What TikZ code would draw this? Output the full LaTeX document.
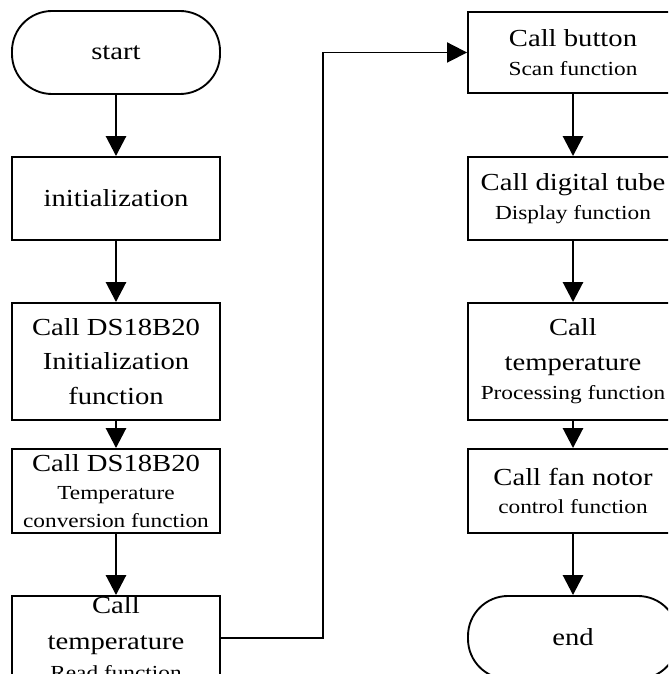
\documentclass[tikz,border=0pt]{standalone}
\usepackage{fontspec}
\setmainfont[FakeStretch=1.17]{Liberation Serif}
\usetikzlibrary{arrows.meta}

\newcommand{\grossschrift}{\fontsize{20.9}{29.4}\selectfont}
\newcommand{\kleinschrift}{\fontsize{17}{23}\selectfont}

\begin{document}
\begin{tikzpicture}[x=0.03cm,y=0.03cm,
		box/.style={draw, line width=1.6pt, inner sep=0pt, align=center, font=\grossschrift},
		leftbox/.style={box, minimum width=6.24cm},
		rightbox/.style={box, minimum width=6.3cm},
		terminal/.style={rounded corners=1.2cm, minimum height=2.49cm},
		flow/.style={line width=2.4pt, -{Triangle[length=0.6cm,width=0.6cm]}},
		link/.style={line width=1.6pt, -{Triangle[length=0.6cm,width=0.6cm]}}]
	
	% Rahmen
	\useasboundingbox (0,0) rectangle (668,674);
	\clip (0,0) rectangle (668,674);
	\fill[white] (0,0) rectangle (668,674);
	
	% Linke Spalte
	\node[leftbox, terminal] (start) at (116,621.5) {start};
	\node[leftbox, minimum height=2.49cm] (init) at (116,475.5) {initialization};
	\node[leftbox, minimum height=3.51cm] (dsinit) at (116,312.5) {Call DS18B20\\Initialization\\function};
	\node[leftbox, minimum height=2.52cm] (dsconv) at (116,183) {Call DS18B20\\[-5pt]{\kleinschrift Temperature}\\[-6pt]{\kleinschrift conversion function}};
	\node[leftbox, minimum height=2.52cm] (read) at (116,36) {Call\\[2pt]temperature\\[-4pt]{\kleinschrift Read function}};
	
	% Rechte Spalte
	\node[rightbox, minimum height=2.43cm] (button) at (573,621.5) {Call button\\[-5pt]{\kleinschrift Scan function}};
	\node[rightbox, minimum height=2.49cm] (tube) at (573,475.5) {Call digital tube\\[-5pt]{\kleinschrift Display function}};
	\node[rightbox, minimum height=3.51cm] (proc) at (573,312.5) {Call\\temperature\\[-4pt]{\kleinschrift Processing function}};
	\node[rightbox, minimum height=2.52cm] (fan) at (573,183) {Call fan notor\\[-5pt]{\kleinschrift control function}};
	\node[rightbox, terminal] (end) at (573,36.5) {end};
	
	% Pfeile
	\draw[flow] (start) -- (init);
	\draw[flow] (init) -- (dsinit);
	\draw[flow] (dsinit) -- (dsconv);
	\draw[flow] (dsconv) -- (read);
	\draw[flow] (button) -- (tube);
	\draw[flow] (tube) -- (proc);
	\draw[flow] (proc) -- (fan);
	\draw[flow] (fan) -- (end);
	
	% Verbindung zur rechten Spalte
	\coordinate (knick) at (323,0);
	\draw[link] (read.east) -- (read.east -| knick) |- (button.west);
	
\end{tikzpicture}
\end{document}
